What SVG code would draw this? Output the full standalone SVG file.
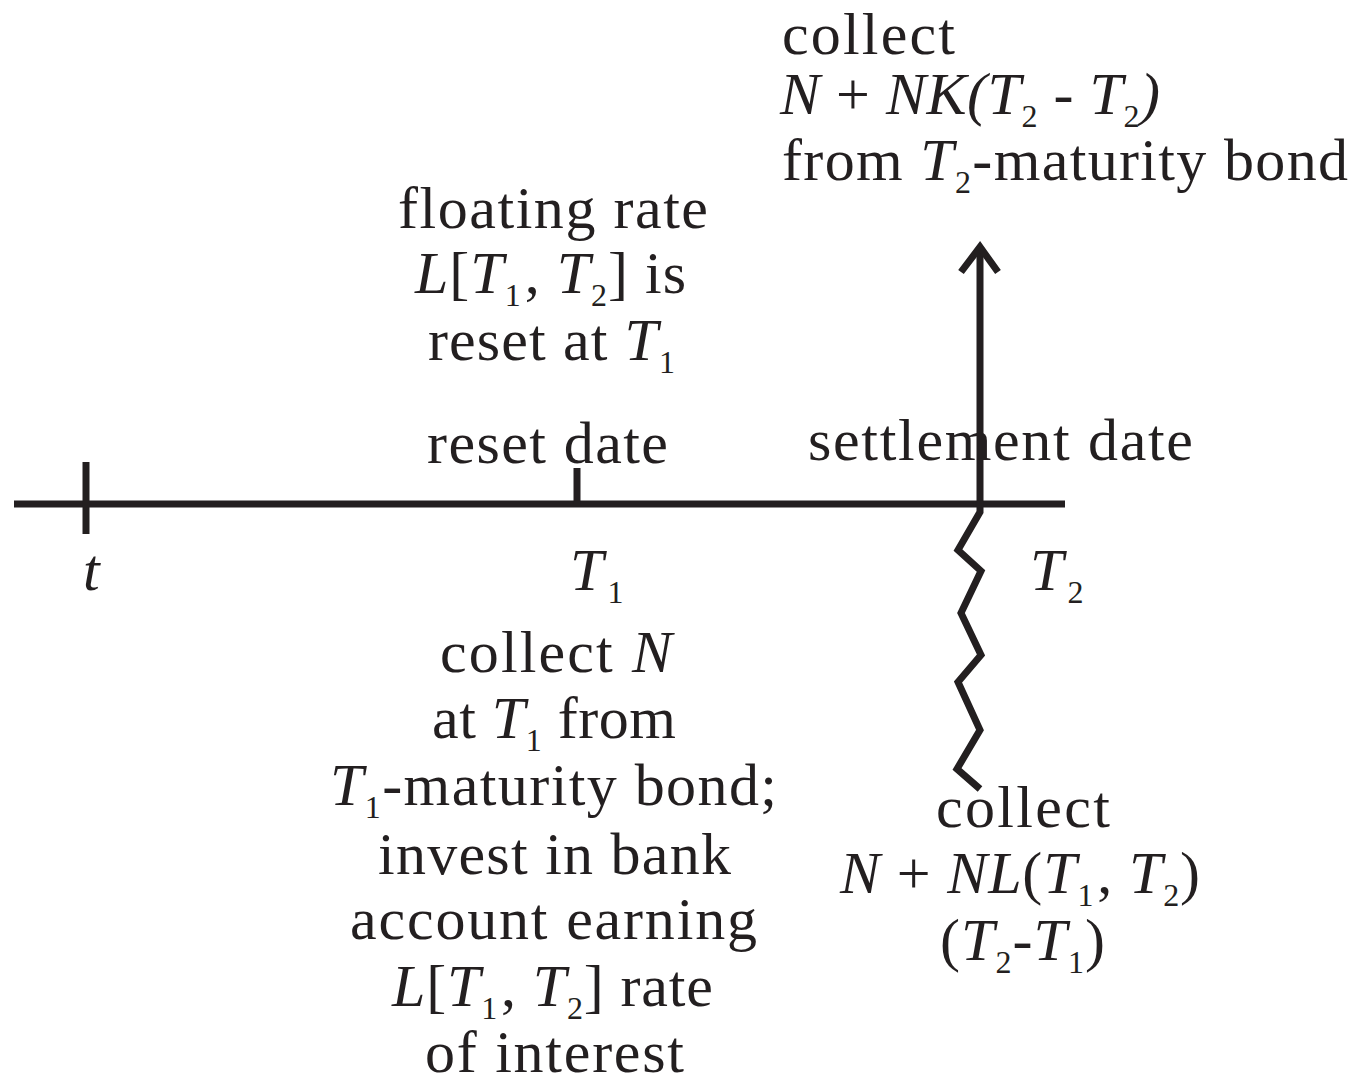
<svg xmlns="http://www.w3.org/2000/svg" width="1355" height="1083" viewBox="0 0 1355 1083">
<style>
text{font-family:"Liberation Serif","Times New Roman",serif;font-size:60px;fill:#231f20}
.i{font-style:italic}
.s{font-size:32px;font-style:normal}
.ln{stroke:#231f20;stroke-width:7;fill:none;stroke-linejoin:miter}
</style>
<rect width="1355" height="1083" fill="#ffffff"/>
<g id="connectors">
<line class="ln" x1="14" y1="504" x2="1065" y2="504"/>
<line class="ln" x1="86" y1="462" x2="86" y2="534"/>
<line class="ln" x1="577" y1="468" x2="577" y2="504"/>
<line class="ln" x1="980" y1="504" x2="980" y2="248"/>
<polyline class="ln" points="961,272 980,247 998,272"/>
<polyline class="ln" points="980,504 980,512 958,550 981,571 961,613 981,655 958,682 980,730 957,769 980,789"/>
</g>
<g id="top-right">
<text x="782" y="54" textLength="173">collect</text>
<text x="780" y="114" textLength="380"><tspan class="i">N</tspan> + <tspan class="i">NK(T</tspan><tspan class="s" dy="13">2</tspan><tspan dy="-13"> - </tspan><tspan class="i">T</tspan><tspan class="s" dy="13">2</tspan><tspan class="i" dy="-13">)</tspan></text>
<text x="782" y="180" textLength="566">from <tspan class="i">T</tspan><tspan class="s" dy="13">2</tspan><tspan dy="-13">-maturity bond</tspan></text>
</g>
<g id="reset-note">
<text x="398" y="228" textLength="310">floating rate</text>
<text x="415" y="293" textLength="271"><tspan class="i">L</tspan>[<tspan class="i">T</tspan><tspan class="s" dy="13">1</tspan><tspan dy="-13" dx="3">, </tspan><tspan class="i">T</tspan><tspan class="s" dy="13">2</tspan><tspan dy="-13">] is</tspan></text>
<text x="428" y="360" textLength="247">reset at <tspan class="i">T</tspan><tspan class="s" dy="13">1</tspan></text>
</g>
<g id="reset-date">
<text x="427" y="463" textLength="241">reset date</text>
</g>
<g id="settlement-date">
<text x="808" y="460" textLength="385">settlement date</text>
</g>
<g id="label-t">
<text class="i" x="83" y="590">t</text>
</g>
<g id="label-T1">
<text x="570" y="590"><tspan class="i">T</tspan><tspan class="s" dy="13" dx="4">1</tspan></text>
</g>
<g id="label-T2">
<text x="1030" y="590"><tspan class="i">T</tspan><tspan class="s" dy="13" dx="4">2</tspan></text>
</g>
<g id="bottom-center">
<text x="440" y="672" textLength="232">collect <tspan class="i">N</tspan></text>
<text x="432" y="738" textLength="244">at <tspan class="i">T</tspan><tspan class="s" dy="13">1</tspan><tspan dy="-13"> from</tspan></text>
<text x="330" y="805" textLength="447"><tspan class="i">T</tspan><tspan class="s" dy="13">1</tspan><tspan dy="-13">-maturity bond;</tspan></text>
<text x="378" y="874" textLength="353">invest in bank</text>
<text x="350" y="939" textLength="407">account earning</text>
<text x="392" y="1006" textLength="321"><tspan class="i">L</tspan>[<tspan class="i">T</tspan><tspan class="s" dy="13">1</tspan><tspan dy="-13" dx="3">, </tspan><tspan class="i">T</tspan><tspan class="s" dy="13">2</tspan><tspan dy="-13">] rate</tspan></text>
<text x="425" y="1072" textLength="259">of interest</text>
</g>
<g id="bottom-right">
<text x="936" y="827" textLength="174">collect</text>
<text x="840" y="893" textLength="360"><tspan class="i">N</tspan> + <tspan class="i">NL</tspan>(<tspan class="i">T</tspan><tspan class="s" dy="13">1</tspan><tspan dy="-13" dx="3">, </tspan><tspan class="i">T</tspan><tspan class="s" dy="13">2</tspan><tspan dy="-13">)</tspan></text>
<text x="940" y="960" textLength="165">(<tspan class="i">T</tspan><tspan class="s" dy="13">2</tspan><tspan dy="-13">-</tspan><tspan class="i">T</tspan><tspan class="s" dy="13">1</tspan><tspan dy="-13">)</tspan></text>
</g>
</svg>
